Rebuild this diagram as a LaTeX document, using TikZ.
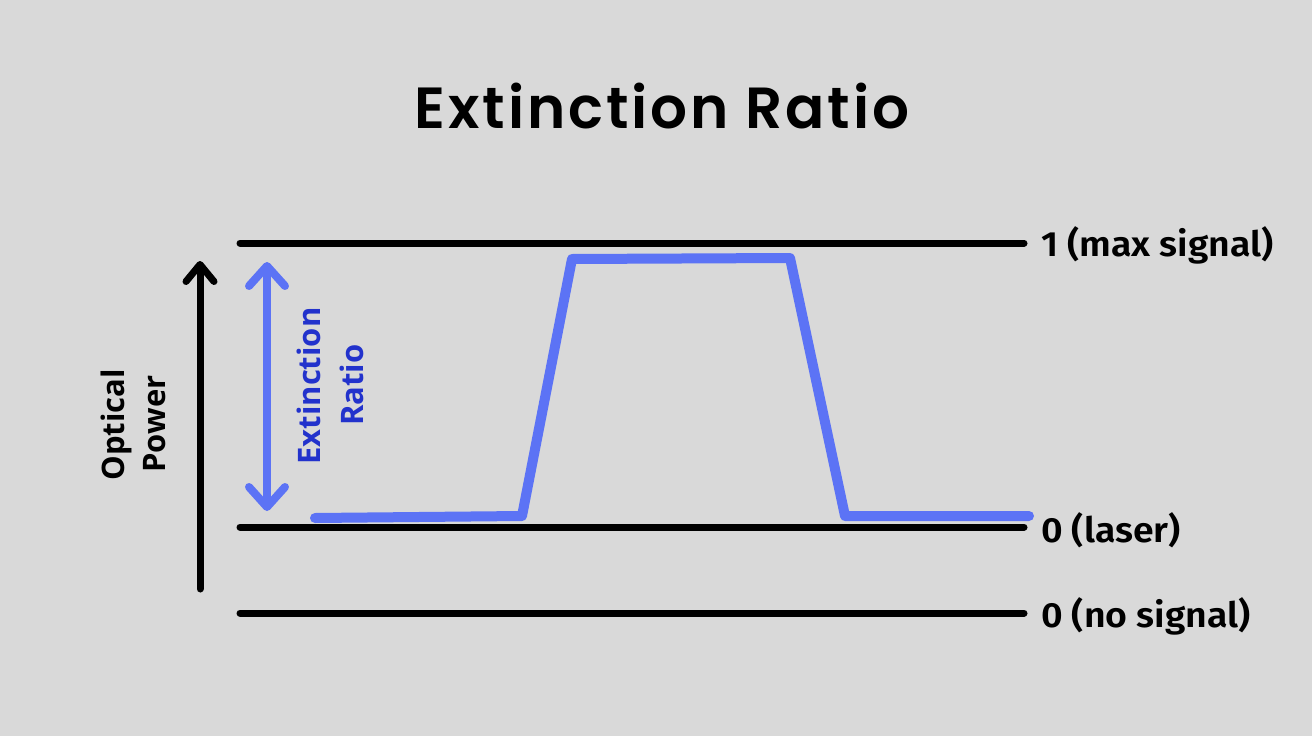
\documentclass[tikz,border=0pt]{standalone}
\usepackage{fontspec}
\usetikzlibrary{arrows.meta}
\newfontfamily\titlefont[LetterSpace=5]{Poppins SemiBold}
\newfontfamily\labelfont[FakeStretch=1.07]{Fira Sans SemiBold}
\newfontfamily\axisfont{Open Sans}[BoldFont=* Bold]
\definecolor{bgc}{HTML}{D9D9D9}
\definecolor{sigblue}{HTML}{5C73F5}
\definecolor{txtblue}{HTML}{2232CC}
\tikzset{
  level/.style={line width=7pt, line cap=round},
  signal/.style={line width=10pt, color=sigblue, line cap=round, line join=round},
  blackbarb/.style={line width=7pt, line cap=round, line join=round,
    -{Straight Barb[length=17pt, width=28pt, line cap=round, line join=round]}},
  bluebarb/.style={line width=8pt, color=sigblue, line cap=round, line join=round,
    {Straight Barb[length=20pt, width=36pt, line cap=round, line join=round]}-{Straight Barb[length=20pt, width=36pt, line cap=round, line join=round]}},
  lvllabel/.style={anchor=base west, inner sep=0pt, font=\labelfont\fontsize{35}{40}\selectfont},
  axislabel/.style={rotate=90, anchor=base, inner sep=0pt, font=\axisfont\bfseries\fontsize{31}{36}\selectfont},
  bluelabel/.style={axislabel, text=txtblue},
}
\begin{document}
\begin{tikzpicture}[x=1pt, y=-1pt]
\path[use as bounding box, fill=bgc] (0,0) rectangle (1312,736);
% title
\node[anchor=base, inner sep=0pt, font=\titlefont\fontsize{58}{68}\selectfont] (title) at (662,128) {Extinction Ratio};
% level lines
\coordinate (l1a) at (240,243); \coordinate (l1b) at (1024,243);
\coordinate (l2a) at (240,527); \coordinate (l2b) at (1024,527);
\coordinate (l3a) at (240,613); \coordinate (l3b) at (1024,613);
\draw[level] (l1a) -- (l1b);
\draw[level] (l2a) -- (l2b);
\draw[level] (l3a) -- (l3b);
% labels
\node[lvllabel] (lab1) at (1041,256) {1 (max signal)};
\node[lvllabel] (lab2) at (1041,542) {0 (laser)};
\node[lvllabel] (lab3) at (1041,627) {0 (no signal)};
% axis arrow
\coordinate (axb) at (200,589); \coordinate (axt) at (200,261);
\draw[blackbarb] (axb) -- (axt);
\node[axislabel] (opt) at (124,425) {Optical};
\node[axislabel] (pow) at (165,424) {Power};
% extinction arrow
\coordinate (ert) at (267,262); \coordinate (erb) at (267,511);
\draw[bluebarb] (ert) -- (erb);
\node[bluelabel] (ext) at (320,386) {Extinction};
\node[bluelabel] (rat) at (363,385) {Ratio};
% signal
\coordinate (s1) at (315,518);
\coordinate (s2) at (522,516);
\coordinate (s3) at (572,259);
\coordinate (s4) at (790,258);
\coordinate (s5) at (845,516);
\coordinate (s6) at (1029,516);
\draw[signal] (s1) -- (s2) -- (s3) -- (s4) -- (s5) -- (s6);
\end{tikzpicture}
\end{document}
